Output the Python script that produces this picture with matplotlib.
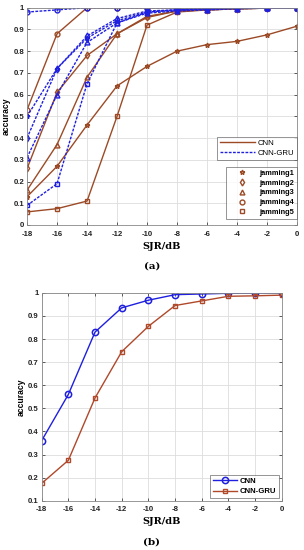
import numpy as np
import matplotlib
matplotlib.use('Agg')
import matplotlib.pyplot as plt
from matplotlib.lines import Line2D
from matplotlib.font_manager import FontProperties

# SJR values shared by both panels
sjr = [-18, -16, -14, -12, -10, -8, -6, -4, -2, 0]

# panel (a): CNN (brown, solid) per jamming type
cnn_j1 = [0.13, 0.27, 0.46, 0.64, 0.73, 0.80, 0.83, 0.845, 0.875, 0.915]
cnn_j2 = [0.26, 0.61, 0.78, 0.88, 0.955, 0.985, 0.99, 0.995, 0.998, 1.0]
cnn_j3 = [0.16, 0.37, 0.68, 0.88, 0.96, 0.985, 0.99, 0.995, 0.998, 1.0]
cnn_j4 = [0.53, 0.88, 1.0, 1.0, 1.0, 1.0, 1.0, 1.0, 1.0, 1.0]
cnn_j5 = [0.06, 0.075, 0.11, 0.50, 0.92, 0.98, 0.99, 0.995, 0.998, 1.0]

# panel (a): CNN-GRU (blue, dashed)
gru_j1 = [0.50, 0.72, 0.86, 0.94, 0.98, 0.99, 0.995, 0.998, 1.0, 1.0]
gru_j2 = [0.40, 0.72, 0.87, 0.95, 0.985, 0.99, 0.995, 0.998, 1.0, 1.0]
gru_j3 = [0.31, 0.60, 0.84, 0.93, 0.975, 0.985, 0.99, 0.995, 0.998, 1.0]
gru_j4 = [0.98, 0.99, 1.0, 1.0, 1.0, 1.0, 1.0, 1.0, 1.0, 1.0]
gru_j5 = [0.09, 0.19, 0.65, 0.93, 0.98, 0.99, 0.995, 0.998, 1.0, 1.0]

jam_labels = ['jamming1', 'jamming2', 'jamming3', 'jamming4', 'jamming5']
jam_markers = ['*', 'd', '^', 'o', 's']

# panel (b)
b_cnn = [0.36, 0.56, 0.83, 0.935, 0.968, 0.992, 0.995, 0.998, 0.999, 1.0]
b_gru = [0.175, 0.275, 0.545, 0.745, 0.855, 0.945, 0.965, 0.985, 0.987, 0.99]

brown = '#9c4a26'
blue = '#1f1fe0'
tick_fp = FontProperties(family='Liberation Sans', weight='bold', size=5.6)


def style_axes(ax):
    ax.grid(True, color='#dddddd', linewidth=0.6)
    ax.set_axisbelow(True)
    ax.tick_params(direction='in', length=2.5, width=0.5, top=True, right=True,
                   pad=2, colors='#222222')
    ax.tick_params(axis='x', pad=4)
    for lab in ax.get_xticklabels() + ax.get_yticklabels():
        lab.set_fontproperties(tick_fp)
    for s in ax.spines.values():
        s.set_color('#888888')
        s.set_linewidth(0.6)
    ax.set_xlabel('SJR/dB', family='DejaVu Serif', weight='bold', fontsize=7, labelpad=3)
    ax.set_ylabel('accuracy', family='Liberation Sans', weight='bold', fontsize=6.2, labelpad=2)


fig = plt.figure(figsize=(3.04, 5.5), dpi=100)

# ---- panel (a)
ax1 = fig.add_axes([0.089, 0.591, 0.888, 0.395])
cnn_all = [cnn_j1, cnn_j2, cnn_j3, cnn_j4, cnn_j5]
gru_all = [gru_j1, gru_j2, gru_j3, gru_j4, gru_j5]
for vals, m in zip(cnn_all, jam_markers):
    ax1.plot(sjr, vals, '-', color=brown, marker=m, markersize=3.5,
             markerfacecolor='none', linewidth=1.0)
for vals, m in zip(gru_all, jam_markers):
    ax1.plot(sjr, vals, '--', color=blue, marker=m, markersize=3.5,
             markerfacecolor='none', linewidth=1.0, dashes=(2, 1))
ax1.set_xlim(-18, 0)
ax1.set_ylim(0, 1)
ax1.set_xticks(sjr)
ax1.set_xticklabels([str(v) for v in sjr])
ax1.set_yticks(np.arange(0, 1.01, 0.1))
ax1.set_yticklabels(['0'] + ['%.1f' % v for v in np.arange(0.1, 1.0, 0.1)] + ['1'])
style_axes(ax1)

line_handles = [Line2D([], [], color=brown, linewidth=1.0, label='CNN'),
                Line2D([], [], color=blue, linewidth=1.0, linestyle='--',
                       dashes=(2, 1), label='CNN-GRU')]
leg1 = ax1.legend(handles=line_handles, loc='upper right', bbox_to_anchor=(1.0, 0.405),
                  prop={'family': 'Liberation Sans', 'size': 5.6}, frameon=True,
                  fancybox=False, edgecolor='#444444', handlelength=4.5, borderpad=0.35,
                  labelspacing=0.3, handletextpad=0.4, borderaxespad=0.0)
leg1.get_frame().set_linewidth(0.5)
ax1.add_artist(leg1)
mark_handles = [Line2D([], [], color=brown, linestyle='none', marker=m, markersize=3.5,
                       markerfacecolor='none', label=l)
                for m, l in zip(jam_markers, jam_labels)]
leg2 = ax1.legend(handles=mark_handles, loc='lower right', bbox_to_anchor=(1.0, 0.028),
                  prop={'family': 'Liberation Sans', 'size': 5.3, 'weight': 'bold'},
                  frameon=True, fancybox=False, edgecolor='#444444', handlelength=3.5,
                  borderpad=0.4, labelspacing=0.35, handletextpad=0.6, borderaxespad=0.0)
leg2.get_frame().set_linewidth(0.5)
fig.text(0.5, 1 - 266 / 550, '(a)', ha='center', va='center', family='DejaVu Serif',
         weight='bold', fontsize=7.5)

# ---- panel (b)
ax2 = fig.add_axes([0.137, 0.0896, 0.79, 0.378])
ax2.plot(sjr, b_cnn, '-', color=blue, marker='o', markersize=4.5,
         markerfacecolor='none', markeredgewidth=1.1, linewidth=1.0, label='CNN')
ax2.plot(sjr, b_gru, '-', color='#b0482a', marker='s', markersize=3.5,
         markerfacecolor='none', markeredgewidth=1.0, linewidth=1.0, label='CNN-GRU')
ax2.set_xlim(-18, 0)
ax2.set_ylim(0.1, 1)
ax2.set_xticks(sjr)
ax2.set_xticklabels([str(v) for v in sjr])
ax2.set_yticks(np.arange(0.1, 1.01, 0.1))
ax2.set_yticklabels(['%.1f' % v for v in np.arange(0.1, 1.0, 0.1)] + ['1'])
style_axes(ax2)
leg3 = ax2.legend(loc='lower right', prop={'family': 'Liberation Sans', 'size': 5.6,
                                           'weight': 'bold'},
                  frameon=True, fancybox=False, edgecolor='#444444', handlelength=3.0,
                  borderpad=0.4, labelspacing=0.35, handletextpad=0.4, borderaxespad=0.3)
leg3.get_frame().set_linewidth(0.5)
fig.text(0.5, 1 - 542 / 550, '(b)', ha='center', va='center', family='DejaVu Serif',
         weight='bold', fontsize=7.5)

fig.savefig('out.png', dpi=100, facecolor='white')
